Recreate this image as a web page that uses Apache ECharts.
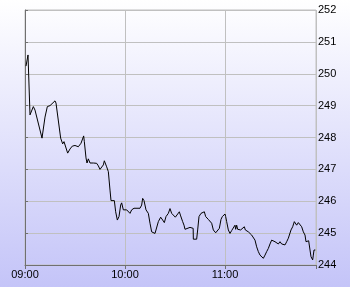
<!DOCTYPE html>
<html>
<head>
<meta charset="utf-8">
<script src="https://cdn.jsdelivr.net/npm/echarts@6/dist/echarts.min.js"></script>
<style>
html,body{margin:0;padding:0;background:#fff;}
#c{width:350px;height:287px;}
</style>
</head>
<body>
<div id="c"></div>
<script>
// minutes after 09:00
var minutes = [0.6, 1.8, 3, 5, 6, 10.2, 12, 13.4, 15, 18, 18.6, 21.4, 22.6, 23.4, 25.6, 27, 28.4, 30, 32, 33.6, 35.2, 35.6,
  36.6, 37.2, 38, 39, 40, 41, 42, 43, 44, 45, 46, 47, 47.6, 49, 50, 51, 51.6, 53.6, 54.4, 55.4, 56.4, 57.4, 58, 59,
  60, 61, 62, 63, 64, 64.6, 65.4, 69, 70, 70.6, 71.4, 72.6, 74, 75, 76, 77, 78, 79, 80, 81.4, 82.6, 83.6, 84.6, 86,
  87, 88, 89, 90.2, 91.4, 92.6, 93.4, 94.6, 95.4, 96, 97, 99, 100, 100.9, 101, 103, 103.6, 104.4, 105.6, 106.4, 107.6,
  108.4, 109, 110, 111, 112, 113, 114.4, 115.6, 116.6, 117.6, 118.4, 119.6, 120, 120.4, 121, 122, 123, 124, 125, 126,
  126.4, 127, 127.6, 128.4, 129.4, 130.4, 131.6, 132.2, 133.4, 134, 135, 136, 137, 138, 139, 140, 141, 142, 143, 144,
  145, 146, 147, 148, 149, 150, 151, 152, 153, 154, 155, 156, 157, 158, 159, 159.6, 160.6, 161, 161.6, 162.2, 163, 164,
  165, 166, 167, 168, 168.6, 169.4, 170.2, 171, 171.6, 172.6, 173, 173.4, 174.2];
var prices = [250.24, 250.59, 248.71, 248.97, 248.86, 247.98, 248.64, 248.97, 249.00, 249.15, 249.08, 247.98, 247.80, 247.87, 247.51, 247.64, 247.73, 247.75, 247.71, 247.82, 248.05, 247.87,
  247.36, 247.20, 247.33, 247.20, 247.14, 247.20, 247.24, 247.19, 247.11, 247.00, 247.00, 247.14, 247.27, 247.08, 246.93, 246.35, 246.02, 246.02, 245.67, 245.41, 245.52, 245.88, 245.95, 245.73,
  245.78, 245.73, 245.78, 245.62, 245.73, 245.75, 245.78, 245.78, 245.88, 246.09, 246.02, 245.73, 245.62, 245.31, 245.04, 245.08, 244.99, 245.04, 245.36, 245.50, 245.41, 245.33, 245.52, 245.62,
  245.77, 245.62, 245.67, 245.50, 245.54, 245.67, 245.54, 245.36, 245.25, 245.12, 245.18, 245.18, 245.15, 245.15, 244.81, 244.81, 245.10, 245.52, 245.62, 245.57, 245.67,
  245.52, 245.57, 245.43, 245.46, 245.31, 245.10, 245.01, 245.01, 245.15, 245.43, 245.52, 245.54, 245.60, 245.52, 245.36, 245.10, 244.99, 245.08, 245.12, 245.25,
  245.12, 245.25, 245.12, 245.18, 245.10, 245.12, 245.20, 245.10, 245.12, 245.04, 244.99, 244.94, 244.89, 244.78, 244.57, 244.42, 244.31, 244.35, 244.21, 244.31,
  244.42, 244.52, 244.66, 244.78, 244.73, 244.73, 244.70, 244.66, 244.73, 244.66, 244.60, 244.63, 244.73, 244.84, 244.89, 245.10, 245.20, 245.15, 245.36, 245.31, 245.25, 245.33,
  245.33, 245.20, 245.04, 244.94, 244.73, 244.70, 244.76, 244.47, 244.26, 244.16, 244.31, 244.47, 244.47];
var xTicks = [0, 60, 120];
var xTickLabels = ['09:00', '10:00', '11:00'];
var yTicks = [244, 245, 246, 247, 248, 249, 250, 251, 252];

var data = minutes.map(function (m, i) { return [m, prices[i]]; });
var chart = echarts.init(document.getElementById('c'), null, {renderer: 'canvas'});
var font = 'Liberation Sans, Arial, sans-serif';
chart.setOption({
  animation: false,
  backgroundColor: new echarts.graphic.LinearGradient(0, 0, 0, 1, [
    {offset: 0, color: '#ffffff'}, {offset: 1, color: '#c4c4f8'}
  ]),
  grid: {left: 25, right: 34, top: 10, bottom: 22, show: true, borderColor: '#c0c0c0', borderWidth: 1, backgroundColor: 'transparent'},
  xAxis: {
    type: 'value', min: 0, max: 174.6, interval: 60,
    axisLine: {show: true, lineStyle: {color: '#707070', width: 1}},
    axisTick: {show: true, length: 4, lineStyle: {color: '#707070'}},
    axisLabel: {
      show: true, margin: 4, color: '#000', fontFamily: font, fontSize: 11,
      formatter: function (v) { var i = xTicks.indexOf(v); return i >= 0 ? xTickLabels[i] : ''; }
    },
    splitLine: {show: true, lineStyle: {color: '#c0c0c0', width: 1}}
  },
  yAxis: {
    type: 'value', position: 'right', min: yTicks[0], max: yTicks[yTicks.length - 1], interval: 1,
    axisLine: {show: true, lineStyle: {color: '#707070', width: 1}},
    axisTick: {show: true, length: 3, lineStyle: {color: '#707070'}},
    axisLabel: {show: true, margin: 2, color: '#000', fontFamily: font, fontSize: 11},
    splitLine: {show: true, lineStyle: {color: '#c0c0c0', width: 1}}
  },
  series: [{
    type: 'line', data: data, showSymbol: false, symbol: 'none',
    lineStyle: {color: '#000', width: 1}
  }]
});
</script>
</body>
</html>
